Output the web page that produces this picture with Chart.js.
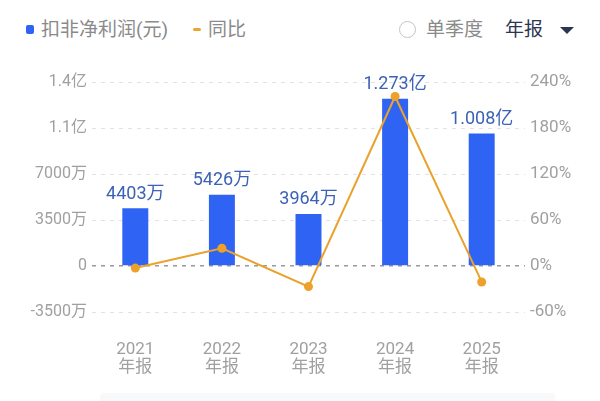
<!DOCTYPE html>
<html>
<head>
<meta charset="utf-8">
<script src="https://cdn.jsdelivr.net/npm/chart.js@4"></script>
<style>
  body { margin: 0; background: #fff; font-family: Roboto, "Noto Sans CJK SC", sans-serif; }
  #wrap { position: relative; width: 600px; height: 401px; overflow: hidden; }
  #c { position: absolute; left: 0; top: 0; }
  .lg { position: absolute; top: 18px; font-size: 19px; line-height: 24px; color: #8a8a8a; white-space: nowrap; }
  .sq { position: absolute; left: 26px; top: 25px; width: 8px; height: 9px; border-radius: 2px; background: #2f63f4; }
  .dash { position: absolute; left: 193px; top: 28px; width: 8px; height: 3px; border-radius: 2px; background: #eba531; }
  .circ { position: absolute; left: 399px; top: 21px; width: 15px; height: 15px; border-radius: 50%; border: 1px solid #c4c4c4; }
  .tri { position: absolute; left: 560px; top: 27px; width: 0; height: 0; border-left: 7px solid transparent; border-right: 7px solid transparent; border-top: 7px solid #2c3550; }
  .foot { position: absolute; left: 100px; top: 393px; width: 455px; height: 20px; background: #f8f9fb; border-radius: 4px; }
</style>
</head>
<body>
<div id="wrap">
  <div class="sq"></div>
  <div class="lg" style="left:41px">扣非净利润(元)</div>
  <div class="dash"></div>
  <div class="lg" style="left:208px">同比</div>
  <div class="circ"></div>
  <div class="lg" style="left:426px">单季度</div>
  <div class="lg" style="left:505px;color:#2c3550">年报</div>
  <div class="tri"></div>
  <div class="foot"></div>
  <canvas id="c" width="600" height="401"></canvas>
</div>
<script>
// 数据
var years = ['2021', '2022', '2023', '2024', '2025'];
var profit = [44030000, 54260000, 39640000, 127300000, 100800000];
var profitLabels = ['4403万', '5426万', '3964万', '1.273亿', '1.008亿'];
var yoy = [-2.7, 23.2, -26.9, 221.1, -20.8];
var leftTicks = [-35000000, 0, 35000000, 70000000, 105000000, 140000000];
var leftTickLabels = ['-3500万', '0', '3500万', '7000万', '1.1亿', '1.4亿'];
var rightTicks = [-60, 0, 60, 120, 180, 240];

// 柱子上方的数值
var barLabels = {
    id: 'barLabels',
    afterDatasetsDraw(chart) {
        var ctx = chart.ctx;
        var meta = chart.getDatasetMeta(1); // 柱状图是第二个数据集
        ctx.save();
        ctx.font = '18px Roboto, "Noto Sans CJK SC"';
        ctx.fillStyle = '#3c62b6';
        ctx.textAlign = 'center';
        ctx.textBaseline = 'bottom';
        meta.data.forEach((bar, i) => {
            ctx.fillText(profitLabels[i], bar.x, bar.y - 5);
        });
        ctx.restore();
    }
};

var ctx = document.getElementById('c').getContext('2d');
new Chart(ctx, {
    data: {
        labels: years.map(y => [y, '年报']),
        datasets: [{
            type: 'line',
            data: yoy,
            yAxisID: 'y1',
            borderColor: '#e9a22c',
            backgroundColor: '#eda02a',
            borderWidth: 2,
            pointRadius: 4.5,
            pointBorderWidth: 0,
            tension: 0,
            order: 0
        }, {
            type: 'bar',
            data: profit,
            yAxisID: 'y',
            backgroundColor: '#2f63f4',
            barPercentage: 0.3,
            categoryPercentage: 1,
            order: 1
        }]
    },
    options: {
        responsive: false,
        devicePixelRatio: 1,
        animation: false,
        layout: { padding: { top: 82, left: 0, right: 0, bottom: 0 } },
        plugins: {
            legend: { display: false },
            tooltip: { enabled: false }
        },
        scales: {
            x: {
                grid: { display: false, drawTicks: false },
                border: { display: false },
                ticks: {
                    padding: 28,
                    color: '#a0a0a0',
                    font: { size: 17, family: 'Roboto, "Noto Sans CJK SC"', lineHeight: 1.1 }
                },
                afterFit: s => { s.height = 89; }
            },
            y: {
                position: 'left',
                min: -35000000,
                max: 140000000,
                afterBuildTicks: s => { s.ticks = leftTicks.map(v => ({ value: v })); },
                ticks: {
                    padding: 5,
                    color: '#a0a0a0',
                    font: { size: 16, family: 'Roboto, "Noto Sans CJK SC"' },
                    callback: (v, i) => leftTickLabels[i]
                },
                grid: {
                    drawTicks: false,
                    color: c => c.tick && c.tick.value === 0 ? '#9a9a9a' : '#e2e2e2',
                    lineWidth: c => c.tick && c.tick.value === 0 ? 1.5 : 1
                },
                border: { display: false, dash: [4, 5] },
                afterFit: s => { s.width = 92; }
            },
            y1: {
                position: 'right',
                min: -60,
                max: 240,
                afterBuildTicks: s => { s.ticks = rightTicks.map(v => ({ value: v })); },
                ticks: {
                    padding: 5,
                    color: '#a0a0a0',
                    font: { size: 17, family: 'Roboto, "Noto Sans CJK SC"' },
                    callback: v => v + '%'
                },
                grid: { display: false, drawTicks: false },
                border: { display: false },
                afterFit: s => { s.width = 75; }
            }
        }
    },
    plugins: [barLabels]
});
</script>
</body>
</html>
